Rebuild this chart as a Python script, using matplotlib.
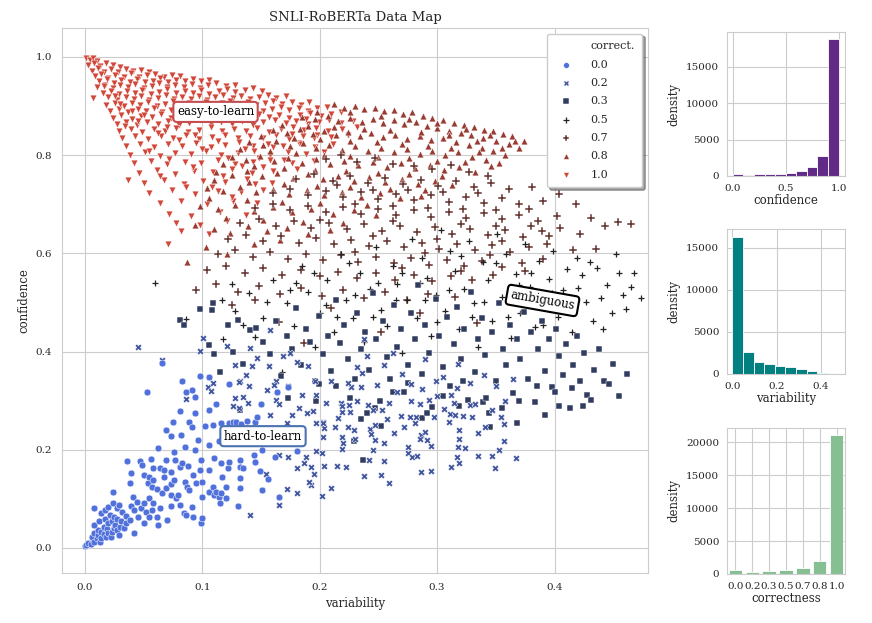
import numpy as np
import matplotlib
matplotlib.use("Agg")
import matplotlib.pyplot as plt
import seaborn as sns
from matplotlib.lines import Line2D

sns.set_style("whitegrid")
plt.rcParams["font.family"] = ["DejaVu Serif"]

# ---- data map points (variability, confidence) ----
pts_10 = [
    (0.001, 0.998), (0.004, 0.993), (0.007, 0.997), (0.010, 0.991),
    (0.003, 0.984), (0.008, 0.988), (0.013, 0.981), (0.018, 0.987), (0.024, 0.983), (0.030, 0.979),
    (0.006, 0.972), (0.011, 0.977), (0.016, 0.970), (0.022, 0.975), (0.028, 0.969), (0.035, 0.976),
    (0.041, 0.971), (0.048, 0.974), (0.055, 0.969),
    (0.009, 0.961), (0.014, 0.966), (0.020, 0.958), (0.026, 0.964), (0.033, 0.960), (0.039, 0.967),
    (0.046, 0.959), (0.053, 0.963), (0.060, 0.966), (0.067, 0.960), (0.074, 0.964), (0.081, 0.961),
    (0.012, 0.950), (0.019, 0.955), (0.025, 0.947), (0.031, 0.953), (0.038, 0.949), (0.044, 0.956),
    (0.051, 0.948), (0.058, 0.952), (0.064, 0.957), (0.071, 0.949), (0.078, 0.954), (0.085, 0.950),
    (0.092, 0.955), (0.099, 0.951), (0.106, 0.953),
    (0.010, 0.938), (0.017, 0.943), (0.024, 0.936), (0.030, 0.942), (0.037, 0.939), (0.043, 0.945),
    (0.050, 0.937), (0.057, 0.941), (0.063, 0.946), (0.070, 0.938), (0.077, 0.943), (0.084, 0.939),
    (0.091, 0.944), (0.098, 0.937), (0.105, 0.942), (0.112, 0.946), (0.120, 0.940), (0.128, 0.943),
    (0.015, 0.926), (0.022, 0.931), (0.029, 0.924), (0.036, 0.930), (0.043, 0.927), (0.049, 0.933),
    (0.056, 0.925), (0.063, 0.929), (0.070, 0.934), (0.078, 0.926), (0.085, 0.931), (0.092, 0.927),
    (0.099, 0.932), (0.106, 0.925), (0.114, 0.930), (0.121, 0.934), (0.128, 0.928), (0.136, 0.932),
    (0.143, 0.936), (0.151, 0.930),
    (0.007, 0.916), (0.020, 0.919), (0.027, 0.912), (0.035, 0.918), (0.042, 0.915), (0.048, 0.921),
    (0.055, 0.913), (0.062, 0.917), (0.069, 0.922), (0.076, 0.914), (0.083, 0.919), (0.090, 0.915),
    (0.097, 0.920), (0.104, 0.913), (0.111, 0.918), (0.118, 0.922), (0.126, 0.916), (0.133, 0.920),
    (0.141, 0.914), (0.148, 0.919), (0.156, 0.923), (0.163, 0.917), (0.171, 0.921),
    (0.018, 0.902), (0.026, 0.907), (0.033, 0.900), (0.040, 0.906), (0.047, 0.903), (0.054, 0.909),
    (0.061, 0.901), (0.068, 0.905), (0.075, 0.910), (0.082, 0.902), (0.089, 0.907), (0.096, 0.903),
    (0.103, 0.908), (0.110, 0.901), (0.117, 0.906), (0.124, 0.910), (0.131, 0.904), (0.139, 0.908),
    (0.146, 0.902), (0.153, 0.907), (0.160, 0.911), (0.168, 0.905), (0.176, 0.909), (0.184, 0.903),
    (0.191, 0.908),
    (0.021, 0.889), (0.029, 0.894), (0.037, 0.887), (0.045, 0.893), (0.052, 0.890), (0.059, 0.896),
    (0.066, 0.888), (0.073, 0.892), (0.080, 0.897), (0.088, 0.889), (0.095, 0.894), (0.102, 0.890),
    (0.109, 0.895), (0.116, 0.888), (0.123, 0.893), (0.130, 0.897), (0.138, 0.891), (0.145, 0.895),
    (0.152, 0.889), (0.159, 0.894), (0.167, 0.898), (0.174, 0.892), (0.182, 0.896), (0.190, 0.890),
    (0.198, 0.895), (0.206, 0.899),
    (0.024, 0.876), (0.031, 0.881), (0.040, 0.874), (0.048, 0.880), (0.057, 0.877), (0.065, 0.883),
    (0.073, 0.875), (0.081, 0.879), (0.090, 0.884), (0.098, 0.876), (0.106, 0.881), (0.115, 0.877),
    (0.123, 0.882), (0.131, 0.875), (0.140, 0.880), (0.148, 0.884), (0.157, 0.878), (0.165, 0.882),
    (0.174, 0.876), (0.183, 0.881), (0.192, 0.885), (0.201, 0.879), (0.210, 0.883), (0.218, 0.887),
    (0.027, 0.863), (0.035, 0.868), (0.044, 0.861), (0.053, 0.867), (0.062, 0.864), (0.071, 0.870),
    (0.080, 0.862), (0.089, 0.866), (0.098, 0.871), (0.107, 0.863), (0.116, 0.868), (0.125, 0.864),
    (0.134, 0.869), (0.143, 0.862), (0.152, 0.867), (0.162, 0.871), (0.171, 0.865), (0.180, 0.869),
    (0.190, 0.863), (0.199, 0.868), (0.208, 0.872), (0.218, 0.866), (0.228, 0.870),
    (0.029, 0.849), (0.039, 0.854), (0.049, 0.847), (0.059, 0.853), (0.068, 0.850), (0.078, 0.856),
    (0.088, 0.848), (0.097, 0.852), (0.107, 0.857), (0.117, 0.849), (0.127, 0.854), (0.137, 0.850),
    (0.147, 0.855), (0.157, 0.848), (0.167, 0.853), (0.177, 0.857), (0.187, 0.851), (0.197, 0.855),
    (0.207, 0.849), (0.219, 0.854), (0.232, 0.858),
    (0.032, 0.834), (0.043, 0.839), (0.054, 0.832), (0.065, 0.838), (0.075, 0.835), (0.086, 0.841),
    (0.097, 0.833), (0.108, 0.837), (0.119, 0.842), (0.130, 0.834), (0.141, 0.839), (0.152, 0.835),
    (0.163, 0.840), (0.174, 0.833), (0.186, 0.838), (0.198, 0.842), (0.210, 0.836), (0.224, 0.840),
    (0.035, 0.818), (0.047, 0.823), (0.059, 0.816), (0.071, 0.822), (0.083, 0.819), (0.095, 0.825),
    (0.107, 0.817), (0.119, 0.821), (0.131, 0.826), (0.143, 0.818), (0.156, 0.823), (0.169, 0.819),
    (0.182, 0.824), (0.196, 0.817), (0.211, 0.822),
    (0.038, 0.801), (0.051, 0.806), (0.064, 0.799), (0.077, 0.805), (0.090, 0.802), (0.103, 0.808),
    (0.116, 0.800), (0.130, 0.804), (0.144, 0.809), (0.158, 0.801), (0.173, 0.806), (0.188, 0.802),
    (0.204, 0.807),
    (0.042, 0.783), (0.056, 0.788), (0.070, 0.781), (0.085, 0.787), (0.099, 0.784), (0.113, 0.790),
    (0.128, 0.782), (0.143, 0.786), (0.158, 0.791), (0.176, 0.783), (0.195, 0.788),
    (0.046, 0.764), (0.061, 0.769), (0.077, 0.762), (0.093, 0.768), (0.109, 0.765), (0.125, 0.771),
    (0.142, 0.763), (0.160, 0.767), (0.181, 0.772),
    (0.037, 0.750), (0.050, 0.744), (0.067, 0.749), (0.084, 0.742), (0.101, 0.748), (0.119, 0.745),
    (0.138, 0.751), (0.159, 0.743),
    (0.055, 0.723), (0.074, 0.728), (0.094, 0.721), (0.113, 0.727), (0.133, 0.724), (0.152, 0.730),
    (0.064, 0.702), (0.082, 0.707), (0.104, 0.700), (0.126, 0.706), (0.147, 0.703),
    (0.072, 0.681), (0.090, 0.676), (0.115, 0.684), (0.137, 0.679),
    (0.078, 0.662), (0.098, 0.657), (0.121, 0.665), (0.082, 0.646), (0.106, 0.640), (0.071, 0.619),
    (0.030, 0.905), (0.050, 0.882), (0.070, 0.858), (0.094, 0.842), (0.113, 0.828), (0.136, 0.812),
    (0.160, 0.816), (0.045, 0.870), (0.062, 0.845), (0.080, 0.830), (0.100, 0.812), (0.122, 0.795),
    (0.148, 0.795), (0.170, 0.790), (0.055, 0.808), (0.072, 0.792), (0.092, 0.776), (0.118, 0.758),
    (0.134, 0.778), (0.152, 0.775), (0.064, 0.758), (0.086, 0.735), (0.108, 0.735), (0.125, 0.715),
    (0.145, 0.742), (0.040, 0.890), (0.034, 0.860), (0.016, 0.940), (0.026, 0.920), (0.184, 0.822),
    (0.195, 0.835), (0.176, 0.843), (0.188, 0.873),
]

pts_08 = [
    (0.212, 0.905), (0.221, 0.897), (0.230, 0.901), (0.238, 0.893), (0.247, 0.896), (0.255, 0.889),
    (0.263, 0.892), (0.271, 0.884), (0.279, 0.887), (0.288, 0.879), (0.296, 0.876), (0.305, 0.871),
    (0.314, 0.866), (0.323, 0.862), (0.331, 0.857), (0.340, 0.852), (0.348, 0.849), (0.356, 0.843),
    (0.364, 0.838), (0.374, 0.829),
    (0.185, 0.878), (0.196, 0.873), (0.207, 0.880), (0.216, 0.870), (0.226, 0.876), (0.236, 0.868),
    (0.245, 0.874), (0.254, 0.866), (0.263, 0.871), (0.272, 0.863), (0.282, 0.868), (0.291, 0.860),
    (0.300, 0.855), (0.310, 0.850), (0.320, 0.846), (0.329, 0.840), (0.339, 0.835), (0.350, 0.828),
    (0.361, 0.822), (0.370, 0.815),
    (0.160, 0.851), (0.172, 0.846), (0.183, 0.853), (0.194, 0.843), (0.204, 0.849), (0.214, 0.840),
    (0.224, 0.847), (0.234, 0.838), (0.244, 0.845), (0.254, 0.836), (0.264, 0.842), (0.274, 0.833),
    (0.285, 0.839), (0.295, 0.830), (0.305, 0.834), (0.316, 0.826), (0.327, 0.820), (0.338, 0.814),
    (0.348, 0.808), (0.358, 0.801),
    (0.140, 0.826), (0.152, 0.820), (0.163, 0.828), (0.175, 0.818), (0.186, 0.824), (0.197, 0.814),
    (0.208, 0.821), (0.219, 0.811), (0.230, 0.818), (0.241, 0.808), (0.252, 0.815), (0.263, 0.806),
    (0.274, 0.812), (0.285, 0.803), (0.296, 0.809), (0.307, 0.800), (0.318, 0.806), (0.330, 0.797),
    (0.342, 0.790), (0.353, 0.785),
    (0.125, 0.797), (0.137, 0.791), (0.149, 0.799), (0.161, 0.788), (0.173, 0.795), (0.185, 0.785),
    (0.197, 0.792), (0.209, 0.782), (0.221, 0.789), (0.233, 0.779), (0.245, 0.786), (0.257, 0.776),
    (0.269, 0.783), (0.281, 0.773), (0.294, 0.779), (0.306, 0.770), (0.319, 0.776), (0.332, 0.766),
    (0.112, 0.766), (0.125, 0.760), (0.138, 0.768), (0.151, 0.757), (0.164, 0.764), (0.177, 0.754),
    (0.190, 0.761), (0.203, 0.751), (0.216, 0.758), (0.229, 0.748), (0.242, 0.755), (0.256, 0.745),
    (0.270, 0.752), (0.284, 0.742), (0.298, 0.748), (0.313, 0.739),
    (0.104, 0.733), (0.118, 0.727), (0.132, 0.735), (0.146, 0.724), (0.160, 0.731), (0.174, 0.721),
    (0.189, 0.728), (0.204, 0.718), (0.219, 0.725), (0.235, 0.715), (0.251, 0.722), (0.268, 0.712),
    (0.286, 0.716),
    (0.098, 0.697), (0.113, 0.690), (0.128, 0.699), (0.144, 0.687), (0.160, 0.694), (0.176, 0.684),
    (0.193, 0.691), (0.211, 0.681), (0.229, 0.688), (0.248, 0.678),
    (0.094, 0.657), (0.110, 0.650), (0.124, 0.641), (0.139, 0.655), (0.155, 0.645), (0.172, 0.652),
    (0.190, 0.640), (0.209, 0.648),
    (0.087, 0.582), (0.144, 0.620), (0.103, 0.612), (0.166, 0.628), (0.121, 0.598),
    (0.198, 0.887), (0.226, 0.887), (0.252, 0.880), (0.276, 0.873), (0.300, 0.866), (0.325, 0.853),
    (0.345, 0.842), (0.366, 0.829), (0.168, 0.862), (0.190, 0.860), (0.212, 0.857), (0.238, 0.853),
    (0.260, 0.852), (0.286, 0.848), (0.310, 0.840), (0.334, 0.828), (0.355, 0.815), (0.150, 0.838),
    (0.178, 0.834), (0.200, 0.832), (0.226, 0.828), (0.249, 0.826), (0.270, 0.822), (0.292, 0.819),
    (0.312, 0.815), (0.336, 0.806), (0.132, 0.812), (0.158, 0.808), (0.180, 0.805), (0.204, 0.800),
    (0.226, 0.798), (0.250, 0.796), (0.276, 0.794), (0.300, 0.789), (0.324, 0.786), (0.346, 0.778),
    (0.118, 0.781), (0.144, 0.777), (0.170, 0.774), (0.196, 0.770), (0.222, 0.768), (0.250, 0.764),
    (0.276, 0.762), (0.304, 0.758), (0.110, 0.750), (0.140, 0.745), (0.170, 0.742), (0.198, 0.738),
    (0.226, 0.735), (0.260, 0.732), (0.290, 0.728), (0.106, 0.712), (0.138, 0.708), (0.168, 0.705),
    (0.200, 0.702), (0.240, 0.698), (0.120, 0.672), (0.152, 0.668), (0.186, 0.664), (0.220, 0.662),
]

pts_07 = [
    (0.205, 0.792), (0.218, 0.800), (0.232, 0.786), (0.247, 0.794), (0.262, 0.781), (0.280, 0.778),
    (0.296, 0.772), (0.312, 0.779), (0.327, 0.765), (0.343, 0.758),
    (0.180, 0.752), (0.195, 0.761), (0.211, 0.748), (0.226, 0.757), (0.241, 0.744), (0.256, 0.754),
    (0.271, 0.741), (0.286, 0.750), (0.301, 0.738), (0.316, 0.747), (0.331, 0.735), (0.346, 0.743),
    (0.361, 0.731), (0.381, 0.736),
    (0.160, 0.722), (0.175, 0.731), (0.190, 0.718), (0.205, 0.727), (0.220, 0.714), (0.235, 0.724),
    (0.250, 0.711), (0.265, 0.721), (0.280, 0.708), (0.295, 0.718), (0.310, 0.705), (0.325, 0.715),
    (0.340, 0.702), (0.355, 0.712), (0.370, 0.700), (0.390, 0.707), (0.404, 0.720),
    (0.145, 0.692), (0.160, 0.700), (0.175, 0.688), (0.190, 0.697), (0.205, 0.684), (0.220, 0.694),
    (0.235, 0.681), (0.250, 0.691), (0.265, 0.678), (0.280, 0.688), (0.295, 0.675), (0.310, 0.685),
    (0.325, 0.672), (0.340, 0.682), (0.355, 0.669), (0.370, 0.679), (0.386, 0.666), (0.402, 0.676),
    (0.418, 0.700), (0.431, 0.672),
    (0.132, 0.661), (0.148, 0.669), (0.163, 0.656), (0.178, 0.666), (0.193, 0.652), (0.208, 0.662),
    (0.223, 0.649), (0.238, 0.659), (0.253, 0.646), (0.268, 0.656), (0.283, 0.643), (0.298, 0.653),
    (0.313, 0.640), (0.328, 0.650), (0.343, 0.637), (0.358, 0.647), (0.373, 0.634), (0.389, 0.645),
    (0.405, 0.652), (0.422, 0.640), (0.443, 0.655), (0.454, 0.663), (0.465, 0.659),
    (0.122, 0.630), (0.137, 0.638), (0.152, 0.625), (0.167, 0.635), (0.182, 0.621), (0.197, 0.631),
    (0.212, 0.618), (0.227, 0.628), (0.242, 0.615), (0.257, 0.625), (0.272, 0.612), (0.287, 0.622),
    (0.302, 0.609), (0.317, 0.619), (0.332, 0.606), (0.347, 0.616), (0.362, 0.603), (0.378, 0.613),
    (0.394, 0.620), (0.416, 0.607), (0.435, 0.609),
    (0.113, 0.598), (0.128, 0.606), (0.143, 0.593), (0.158, 0.603), (0.173, 0.589), (0.188, 0.599),
    (0.203, 0.586), (0.218, 0.596), (0.233, 0.583), (0.248, 0.593), (0.263, 0.580), (0.278, 0.590),
    (0.293, 0.577), (0.308, 0.587), (0.323, 0.574), (0.338, 0.584), (0.355, 0.572), (0.372, 0.581),
    (0.390, 0.589),
    (0.104, 0.566), (0.120, 0.574), (0.136, 0.560), (0.152, 0.570), (0.168, 0.556), (0.184, 0.566),
    (0.200, 0.553), (0.216, 0.563), (0.232, 0.549), (0.248, 0.560), (0.264, 0.546), (0.280, 0.556),
    (0.296, 0.543), (0.312, 0.553), (0.330, 0.546), (0.348, 0.556),
    (0.095, 0.525), (0.112, 0.538), (0.130, 0.521), (0.148, 0.534), (0.166, 0.517), (0.184, 0.530),
    (0.202, 0.513), (0.220, 0.526), (0.238, 0.509), (0.256, 0.522), (0.274, 0.505), (0.292, 0.518),
    (0.315, 0.512),
    (0.125, 0.494), (0.165, 0.461), (0.187, 0.418), (0.210, 0.488), (0.252, 0.440), (0.334, 0.458),
    (0.285, 0.478), (0.145, 0.505),
    (0.215, 0.740), (0.245, 0.730), (0.275, 0.728), (0.305, 0.725), (0.335, 0.722), (0.230, 0.700),
    (0.262, 0.696), (0.292, 0.693), (0.322, 0.690), (0.350, 0.688), (0.378, 0.690), (0.200, 0.668),
    (0.262, 0.665), (0.320, 0.660), (0.350, 0.655), (0.380, 0.655), (0.245, 0.636), (0.300, 0.630),
    (0.355, 0.625), (0.395, 0.635), (0.230, 0.602), (0.290, 0.600), (0.345, 0.597), (0.270, 0.570),
    (0.320, 0.565), (0.375, 0.565),
]

pts_05 = [
    (0.060, 0.539), (0.086, 0.466), (0.117, 0.505), (0.118, 0.425), (0.128, 0.482), (0.140, 0.520),
    (0.145, 0.430), (0.152, 0.468), (0.160, 0.545), (0.168, 0.359), (0.172, 0.498), (0.178, 0.452),
    (0.185, 0.575), (0.190, 0.522), (0.196, 0.410), (0.200, 0.478), (0.206, 0.545), (0.212, 0.440),
    (0.218, 0.598), (0.222, 0.505), (0.228, 0.468), (0.234, 0.560), (0.238, 0.420), (0.243, 0.528),
    (0.248, 0.612), (0.252, 0.485), (0.257, 0.452), (0.262, 0.575), (0.266, 0.538), (0.270, 0.398),
    (0.274, 0.505), (0.279, 0.630), (0.283, 0.468), (0.287, 0.590), (0.291, 0.550), (0.295, 0.432),
    (0.299, 0.515), (0.303, 0.648), (0.307, 0.482), (0.311, 0.605), (0.315, 0.565), (0.319, 0.445),
    (0.323, 0.528), (0.327, 0.625), (0.331, 0.498), (0.335, 0.410), (0.339, 0.582), (0.343, 0.545),
    (0.347, 0.462), (0.351, 0.640), (0.355, 0.512), (0.359, 0.598), (0.363, 0.428), (0.367, 0.558),
    (0.371, 0.478), (0.375, 0.620), (0.379, 0.532), (0.383, 0.450), (0.387, 0.585), (0.391, 0.500),
    (0.395, 0.548), (0.399, 0.605), (0.403, 0.470), (0.407, 0.525), (0.411, 0.568), (0.415, 0.440),
    (0.419, 0.590), (0.423, 0.556), (0.427, 0.500), (0.430, 0.583), (0.433, 0.462), (0.436, 0.570),
    (0.441, 0.445), (0.445, 0.535), (0.449, 0.478), (0.452, 0.598), (0.458, 0.515), (0.461, 0.487),
    (0.465, 0.532), (0.474, 0.510), (0.468, 0.560), (0.455, 0.560),
    (0.180, 0.540), (0.205, 0.495), (0.225, 0.580), (0.245, 0.470), (0.265, 0.505), (0.285, 0.540),
    (0.300, 0.460), (0.320, 0.595), (0.340, 0.500), (0.360, 0.470), (0.380, 0.560), (0.398, 0.520),
    (0.310, 0.525), (0.290, 0.505), (0.270, 0.560), (0.250, 0.540), (0.230, 0.515), (0.215, 0.470),
    (0.195, 0.560), (0.175, 0.525), (0.155, 0.500), (0.135, 0.455), (0.125, 0.538), (0.330, 0.470),
    (0.350, 0.580), (0.370, 0.535), (0.390, 0.455), (0.410, 0.495), (0.420, 0.530), (0.440, 0.510),
]

pts_03 = [
    (0.081, 0.464), (0.084, 0.455), (0.098, 0.486), (0.108, 0.485), (0.109, 0.498), (0.122, 0.454),
    (0.130, 0.465), (0.141, 0.444), (0.146, 0.448), (0.106, 0.413), (0.110, 0.394), (0.126, 0.400),
    (0.115, 0.358), (0.135, 0.375), (0.152, 0.420), (0.158, 0.395), (0.163, 0.462), (0.167, 0.350),
    (0.172, 0.432), (0.176, 0.405), (0.180, 0.488), (0.184, 0.372), (0.188, 0.445), (0.192, 0.420),
    (0.196, 0.340), (0.199, 0.472), (0.203, 0.395), (0.207, 0.432), (0.210, 0.360), (0.214, 0.505),
    (0.217, 0.418), (0.221, 0.455), (0.224, 0.385), (0.229, 0.218), (0.230, 0.345), (0.232, 0.478),
    (0.235, 0.405), (0.237, 0.179), (0.239, 0.440), (0.242, 0.362), (0.245, 0.520), (0.248, 0.425),
    (0.251, 0.300), (0.254, 0.462), (0.257, 0.388), (0.260, 0.345), (0.263, 0.495), (0.266, 0.410),
    (0.269, 0.445), (0.272, 0.318), (0.275, 0.372), (0.278, 0.478), (0.281, 0.425), (0.284, 0.535),
    (0.287, 0.355), (0.290, 0.455), (0.293, 0.398), (0.296, 0.288), (0.299, 0.508), (0.302, 0.432),
    (0.305, 0.368), (0.308, 0.470), (0.311, 0.330), (0.314, 0.415), (0.317, 0.490), (0.320, 0.385),
    (0.323, 0.445), (0.326, 0.302), (0.329, 0.522), (0.332, 0.358), (0.335, 0.425), (0.338, 0.468),
    (0.341, 0.392), (0.344, 0.275), (0.347, 0.440), (0.350, 0.340), (0.353, 0.498), (0.356, 0.405),
    (0.359, 0.372), (0.362, 0.455), (0.365, 0.315), (0.368, 0.425), (0.371, 0.385), (0.374, 0.480),
    (0.377, 0.345), (0.380, 0.440), (0.383, 0.298), (0.386, 0.405), (0.389, 0.462), (0.392, 0.360),
    (0.395, 0.425), (0.398, 0.328), (0.401, 0.445), (0.404, 0.390), (0.407, 0.352), (0.410, 0.415),
    (0.413, 0.285), (0.416, 0.372), (0.419, 0.432), (0.422, 0.340), (0.425, 0.398), (0.428, 0.312),
    (0.431, 0.301), (0.434, 0.362), (0.438, 0.405), (0.442, 0.340), (0.446, 0.334), (0.450, 0.375),
    (0.462, 0.355), (0.455, 0.310), (0.235, 0.262), (0.252, 0.249), (0.247, 0.284), (0.240, 0.275),
    (0.287, 0.264), (0.291, 0.274), (0.319, 0.289), (0.345, 0.247), (0.339, 0.298), (0.342, 0.305),
    (0.385, 0.330), (0.400, 0.318), (0.415, 0.325), (0.404, 0.289), (0.199, 0.333), (0.214, 0.329),
    (0.173, 0.305), (0.197, 0.300), (0.132, 0.280), (0.262, 0.318), (0.226, 0.305), (0.275, 0.335),
    (0.305, 0.310), (0.322, 0.340), (0.355, 0.285), (0.370, 0.300), (0.392, 0.270), (0.368, 0.255),
    (0.424, 0.290),
]

pts_02 = [
    (0.210, 0.339), (0.227, 0.327), (0.235, 0.327), (0.249, 0.331), (0.266, 0.318), (0.278, 0.333),
    (0.287, 0.323), (0.299, 0.339), (0.300, 0.310), (0.312, 0.312), (0.317, 0.325), (0.328, 0.335),
    (0.205, 0.296), (0.218, 0.296), (0.219, 0.289), (0.225, 0.291), (0.232, 0.300), (0.241, 0.291),
    (0.259, 0.296), (0.278, 0.300), (0.285, 0.293), (0.293, 0.301), (0.314, 0.295), (0.328, 0.291),
    (0.332, 0.293), (0.358, 0.299), (0.347, 0.280), (0.306, 0.282), (0.311, 0.273), (0.315, 0.270),
    (0.322, 0.269), (0.330, 0.267), (0.354, 0.267), (0.194, 0.278), (0.219, 0.276), (0.226, 0.276),
    (0.245, 0.281), (0.253, 0.281), (0.269, 0.269), (0.257, 0.263), (0.282, 0.267), (0.277, 0.267),
    (0.297, 0.267), (0.203, 0.257), (0.216, 0.265), (0.281, 0.254), (0.310, 0.256), (0.357, 0.253),
    (0.224, 0.246), (0.229, 0.240), (0.213, 0.247), (0.204, 0.244), (0.243, 0.242), (0.247, 0.250),
    (0.272, 0.246), (0.263, 0.235), (0.286, 0.230), (0.290, 0.236), (0.285, 0.221), (0.291, 0.219),
    (0.244, 0.233), (0.319, 0.240), (0.335, 0.235), (0.341, 0.246), (0.203, 0.225), (0.219, 0.225),
    (0.220, 0.214), (0.230, 0.222), (0.247, 0.220), (0.255, 0.213), (0.319, 0.221), (0.357, 0.217),
    (0.219, 0.202), (0.245, 0.200), (0.275, 0.205), (0.275, 0.194), (0.295, 0.208), (0.318, 0.205),
    (0.324, 0.203), (0.353, 0.200), (0.202, 0.193), (0.279, 0.185), (0.283, 0.187), (0.255, 0.178),
    (0.242, 0.180), (0.317, 0.185), (0.319, 0.174), (0.335, 0.187), (0.347, 0.187), (0.367, 0.183),
    (0.193, 0.164), (0.204, 0.166), (0.215, 0.166), (0.222, 0.164), (0.312, 0.164), (0.349, 0.162),
    (0.286, 0.155), (0.295, 0.157), (0.195, 0.151), (0.238, 0.147), (0.252, 0.148), (0.259, 0.133),
    (0.193, 0.128), (0.210, 0.123), (0.202, 0.105),
    (0.105, 0.327), (0.107, 0.320), (0.132, 0.339), (0.140, 0.329), (0.155, 0.322), (0.163, 0.339),
    (0.086, 0.303), (0.128, 0.305), (0.135, 0.308), (0.126, 0.290), (0.131, 0.284), (0.139, 0.296),
    (0.158, 0.271), (0.163, 0.301), (0.165, 0.293), (0.172, 0.255), (0.176, 0.271), (0.182, 0.284),
    (0.185, 0.312), (0.189, 0.274), (0.197, 0.312), (0.203, 0.254), (0.197, 0.254), (0.173, 0.186),
    (0.165, 0.189), (0.188, 0.186), (0.187, 0.174), (0.181, 0.162), (0.197, 0.198), (0.154, 0.151),
    (0.191, 0.135), (0.172, 0.120), (0.181, 0.111), (0.165, 0.088), (0.141, 0.068),
    (0.045, 0.410), (0.066, 0.383), (0.101, 0.428), (0.098, 0.402), (0.121, 0.411), (0.128, 0.373),
    (0.141, 0.407), (0.142, 0.371), (0.147, 0.386), (0.158, 0.444), (0.157, 0.370), (0.169, 0.390),
    (0.175, 0.396), (0.181, 0.379), (0.190, 0.370), (0.196, 0.339), (0.173, 0.329), (0.161, 0.332),
    (0.137, 0.352), (0.131, 0.338), (0.109, 0.335), (0.232, 0.369), (0.236, 0.356), (0.224, 0.336),
    (0.240, 0.390), (0.238, 0.425), (0.255, 0.372), (0.270, 0.355), (0.262, 0.398), (0.305, 0.348),
    (0.318, 0.375), (0.340, 0.352), (0.290, 0.385), (0.350, 0.330), (0.365, 0.345),
]

pts_00 = [
    (0.000, 0.003), (0.001, 0.006), (0.003, 0.011), (0.005, 0.008), (0.007, 0.016), (0.006, 0.023),
    (0.008, 0.013), (0.010, 0.020), (0.008, 0.030), (0.011, 0.026), (0.013, 0.013), (0.014, 0.020),
    (0.011, 0.037), (0.014, 0.033), (0.016, 0.029), (0.018, 0.023), (0.008, 0.047), (0.012, 0.054),
    (0.016, 0.043), (0.019, 0.038), (0.020, 0.030), (0.022, 0.023), (0.023, 0.033), (0.025, 0.040),
    (0.017, 0.058), (0.020, 0.050), (0.023, 0.054), (0.026, 0.047), (0.027, 0.037), (0.029, 0.026),
    (0.030, 0.043), (0.021, 0.067), (0.025, 0.064), (0.027, 0.058), (0.031, 0.054), (0.033, 0.040),
    (0.035, 0.050), (0.008, 0.081), (0.014, 0.071), (0.017, 0.077), (0.020, 0.084), (0.024, 0.091),
    (0.027, 0.081), (0.029, 0.088), (0.032, 0.074), (0.035, 0.065), (0.038, 0.057), (0.039, 0.086),
    (0.042, 0.077), (0.045, 0.064), (0.042, 0.030), (0.048, 0.081), (0.050, 0.050), (0.052, 0.074),
    (0.055, 0.064), (0.057, 0.077), (0.061, 0.064), (0.062, 0.047), (0.064, 0.081), (0.070, 0.057),
    (0.024, 0.113), (0.041, 0.104), (0.044, 0.094), (0.050, 0.092), (0.055, 0.101), (0.058, 0.092),
    (0.054, 0.132), (0.057, 0.125), (0.061, 0.120), (0.066, 0.111), (0.069, 0.122), (0.073, 0.086),
    (0.073, 0.108), (0.078, 0.101), (0.079, 0.108), (0.081, 0.088), (0.084, 0.072), (0.086, 0.067),
    (0.091, 0.084), (0.092, 0.064), (0.099, 0.050), (0.100, 0.060), (0.100, 0.103), (0.106, 0.113),
    (0.110, 0.108), (0.114, 0.104), (0.115, 0.092), (0.120, 0.101), (0.130, 0.086),
    (0.038, 0.132), (0.039, 0.153), (0.050, 0.149), (0.055, 0.144), (0.058, 0.138), (0.067, 0.144),
    (0.073, 0.130), (0.076, 0.138), (0.085, 0.135), (0.087, 0.125), (0.089, 0.118), (0.092, 0.149),
    (0.095, 0.132), (0.100, 0.135), (0.109, 0.125), (0.112, 0.113), (0.116, 0.111), (0.120, 0.125),
    (0.132, 0.123), (0.151, 0.117), (0.165, 0.104),
    (0.036, 0.177), (0.047, 0.178), (0.049, 0.169), (0.056, 0.182), (0.058, 0.162), (0.064, 0.162),
    (0.067, 0.159), (0.069, 0.179), (0.062, 0.203), (0.073, 0.155), (0.077, 0.179), (0.081, 0.164),
    (0.076, 0.196), (0.083, 0.172), (0.085, 0.206), (0.088, 0.167), (0.094, 0.200), (0.096, 0.219),
    (0.099, 0.179), (0.098, 0.159), (0.106, 0.159), (0.106, 0.210), (0.110, 0.184), (0.114, 0.217),
    (0.116, 0.172), (0.117, 0.144), (0.122, 0.162), (0.123, 0.176), (0.132, 0.179), (0.132, 0.164),
    (0.132, 0.142), (0.135, 0.162), (0.144, 0.189), (0.145, 0.176), (0.149, 0.157), (0.156, 0.140),
    (0.162, 0.185), (0.181, 0.198), (0.151, 0.200),
    (0.069, 0.240), (0.075, 0.257), (0.073, 0.227), (0.081, 0.278), (0.082, 0.230), (0.089, 0.257),
    (0.091, 0.247), (0.094, 0.274), (0.102, 0.248), (0.106, 0.281), (0.109, 0.250), (0.112, 0.293),
    (0.116, 0.254), (0.123, 0.333), (0.123, 0.254), (0.126, 0.257), (0.129, 0.257), (0.133, 0.252),
    (0.138, 0.259), (0.145, 0.257), (0.147, 0.266), (0.150, 0.293), (0.164, 0.318), (0.173, 0.327),
    (0.172, 0.240), (0.182, 0.230), (0.091, 0.322), (0.094, 0.308), (0.086, 0.317), (0.053, 0.317),
    (0.066, 0.376), (0.083, 0.340), (0.098, 0.350), (0.106, 0.349),
]

class_labels = ["0.0", "0.2", "0.3", "0.5", "0.7", "0.8", "1.0"]
class_points = [pts_00, pts_02, pts_03, pts_05, pts_07, pts_08, pts_10]
class_markers = ["o", "X", "s", "+", "P", "^", "v"]
class_sizes = [24, 24, 24, 24, 32, 24, 24]

# ---- histograms ----
conf_bins = [0.0, 0.1, 0.2, 0.3, 0.4, 0.5, 0.6, 0.7, 0.8, 0.9, 1.0]
conf_counts = [270, 90, 230, 270, 320, 410, 690, 1190, 2700, 18840]
var_bins = [0.0, 0.048, 0.096, 0.144, 0.192, 0.240, 0.288, 0.336, 0.384, 0.432, 0.480]
var_counts = [16310, 2590, 1390, 1150, 995, 835, 640, 360, 120, 40]
correct_counts = [610, 355, 455, 560, 915, 2030, 21070]

pal = sns.diverging_palette(260, 15, n=7, sep=10, center="dark")

fig = plt.figure(figsize=(8.72, 6.23), dpi=100)
ax0 = fig.add_axes([0.0711, 0.0803, 0.672, 0.8748])
ax1 = fig.add_axes([0.8337, 0.7175, 0.1353, 0.2311])
ax2 = fig.add_axes([0.8337, 0.3997, 0.1353, 0.2327])
ax3 = fig.add_axes([0.8337, 0.0787, 0.1353, 0.2343])

draw_order = [6, 5, 4, 3, 2, 1, 0]
handles = {}
for i in draw_order:
    arr = np.array(class_points[i])
    if class_markers[i] == "+":
        handles[i] = ax0.scatter(arr[:, 0], arr[:, 1], s=class_sizes[i], marker="+",
                                 color=pal[i], linewidth=0.9, label=class_labels[i])
    else:
        handles[i] = ax0.scatter(arr[:, 0], arr[:, 1], s=class_sizes[i],
                                 marker=class_markers[i], color=pal[i],
                                 edgecolor="white", linewidth=0.35, label=class_labels[i])

ax0.set_xlim(-0.0195, 0.4796)
ax0.set_ylim(-0.051, 1.059)
ax0.set_xticks([0.0, 0.1, 0.2, 0.3, 0.4])
ax0.set_yticks([0.0, 0.2, 0.4, 0.6, 0.8, 1.0])
ax0.tick_params(labelsize=7.5)
ax0.set_xlabel("variability", fontsize=8.5)
ax0.set_ylabel("confidence", fontsize=8.5)
ax0.set_title("SNLI-RoBERTa Data Map", fontsize=9.5, pad=5)

blank = Line2D([], [], linestyle="none", marker="")
leg_handles = [blank] + [handles[i] for i in range(7)]
leg_labels = ["correct."] + class_labels
ax0.legend(leg_handles, leg_labels, loc="upper right", fancybox=True, shadow=True,
           fontsize=8, labelspacing=0.75, borderpad=0.7, handletextpad=1.2,
           markerscale=0.85, framealpha=1.0)

bb = lambda c: dict(boxstyle="round,pad=0.3", ec=c, lw=1.5, fc="white")
ax0.annotate("ambiguous", xy=(0.82, 0.5), xycoords="axes fraction", fontsize=8.5,
             color="black", va="center", ha="center", rotation=350, bbox=bb("black"))
ax0.annotate("easy-to-learn", xy=(0.262, 0.846), xycoords="axes fraction", fontsize=8.5,
             color="black", va="center", ha="center", bbox=bb("#c44e52"))
ax0.annotate("hard-to-learn", xy=(0.343, 0.251), xycoords="axes fraction", fontsize=8.5,
             color="black", va="center", ha="center", bbox=bb("#4c72b0"))

# confidence histogram
ax1.bar(conf_bins[:-1], conf_counts, width=np.diff(conf_bins), align="edge",
        color="#622a87", edgecolor="white", linewidth=0.6)
ax1.set_xlim(-0.055, 1.06)
ax1.set_ylim(0, 19800)
ax1.set_xticks([0.0, 0.5, 1.0])
ax1.set_yticks([0, 5000, 10000, 15000])
ax1.set_xlabel("confidence", fontsize=8.5, labelpad=1)
ax1.set_ylabel("density", fontsize=8.5)

# variability histogram
ax2.bar(var_bins[:-1], var_counts, width=np.diff(var_bins), align="edge",
        color="teal", edgecolor="white", linewidth=0.6)
ax2.set_xlim(-0.0243, 0.51)
ax2.set_ylim(0, 17200)
ax2.set_xticks([0.0, 0.2, 0.4])
ax2.set_yticks([0, 5000, 10000, 15000])
ax2.set_xlabel("variability", fontsize=8.5, labelpad=1)
ax2.set_ylabel("density", fontsize=8.5)

# correctness counts
pos = np.arange(len(class_labels))
ax3.bar(pos, correct_counts, width=0.8, color="#86bf91", edgecolor="white", linewidth=0.6)
ax3.set_xlim(-0.5, 6.5)
ax3.set_ylim(0, 22150)
ax3.set_xticks(pos)
ax3.set_xticklabels(class_labels)
ax3.set_yticks([0, 5000, 10000, 15000, 20000])
ax3.set_xlabel("correctness", fontsize=8.5, labelpad=1)
ax3.set_ylabel("density", fontsize=8.5)

for ax in (ax1, ax2, ax3):
    ax.tick_params(labelsize=7.5, pad=2)
    ax.set_axisbelow(True)

fig.savefig("out.png", dpi=100)
